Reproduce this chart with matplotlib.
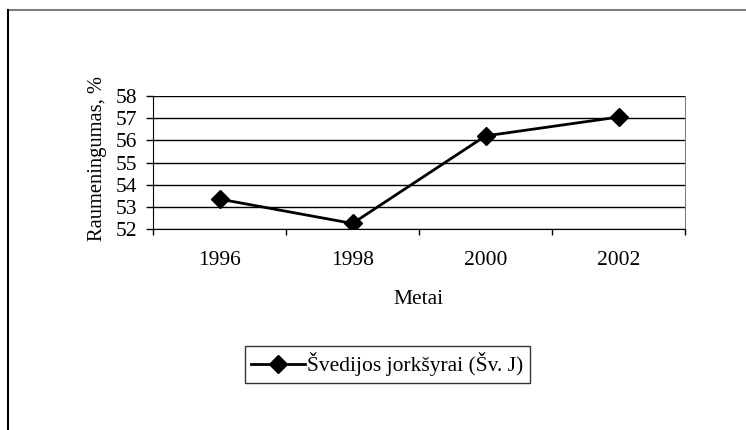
import matplotlib
matplotlib.use("Agg")
import matplotlib.pyplot as plt
from matplotlib.lines import Line2D

years = ["1996", "1998", "2000", "2002"]
values = [53.35, 52.25, 56.2, 57.05]
series_name = "Švedijos jorkšyrai (Šv. J)"
y_ticks = [52, 53, 54, 55, 56, 57, 58]

plt.rcParams['font.family'] = ['Liberation Serif', 'DejaVu Serif']
FS = 15.5

W, H = 746, 430
fig = plt.figure(figsize=(W / 100, H / 100), dpi=100)
ax = fig.add_axes([153 / W, 1 - 229 / H, (685 - 153) / W, (229 - 96) / H])

x = list(range(len(years)))
ax.plot(x, values, color='black', lw=2, marker='D', markersize=9.5,
        label=series_name, zorder=3)

ax.set_xlim(-0.5, len(years) - 0.5)
ax.set_ylim(52, 58)
ax.set_yticks(y_ticks)
ax.set_yticklabels([str(v) for v in y_ticks], fontsize=FS)
for v in y_ticks:
    ax.axhline(v, color='black', lw=1, zorder=1)

ax.set_xticks([i - 0.5 for i in range(len(years) + 1)])
ax.set_xticklabels([])
ax.set_xticks(x, minor=True)
ax.set_xticklabels(years, minor=True, fontsize=FS)
ax.tick_params(axis='x', which='minor', length=0, pad=16)
ax.tick_params(axis='x', which='major', length=4.5, width=1, direction='out', color='black')
ax.tick_params(axis='y', length=5, width=1, direction='out', pad=6.5)

ax.spines['left'].set_color('black')
ax.spines['bottom'].set_color('black')
ax.spines['right'].set_color('#808080')
ax.spines['top'].set_visible(False)

ax.set_xlabel("Metai", fontsize=FS, labelpad=14)
ax.set_ylabel("Raumeningumas, %", fontsize=14.8)
ax.yaxis.set_label_coords(-0.087, 0.53)

leg = fig.legend(loc='center', bbox_to_anchor=(387.5 / W, 1 - 364.5 / H),
                 fontsize=FS, frameon=True, fancybox=False, handlelength=2.5,
                 borderpad=0.3, handletextpad=0.1, borderaxespad=0)
leg.get_frame().set_edgecolor('black')
leg.get_frame().set_linewidth(1)

fig.add_artist(Line2D([8 / W, 1], [1 - 10 / H, 1 - 10 / H], color='#808080', lw=1.5,
                      transform=fig.transFigure))
fig.add_artist(Line2D([8 / W, 8 / W], [1 - 10 / H, 0], color='black', lw=1.5,
                      transform=fig.transFigure))

fig.savefig("out.png", dpi=100, facecolor='white')
